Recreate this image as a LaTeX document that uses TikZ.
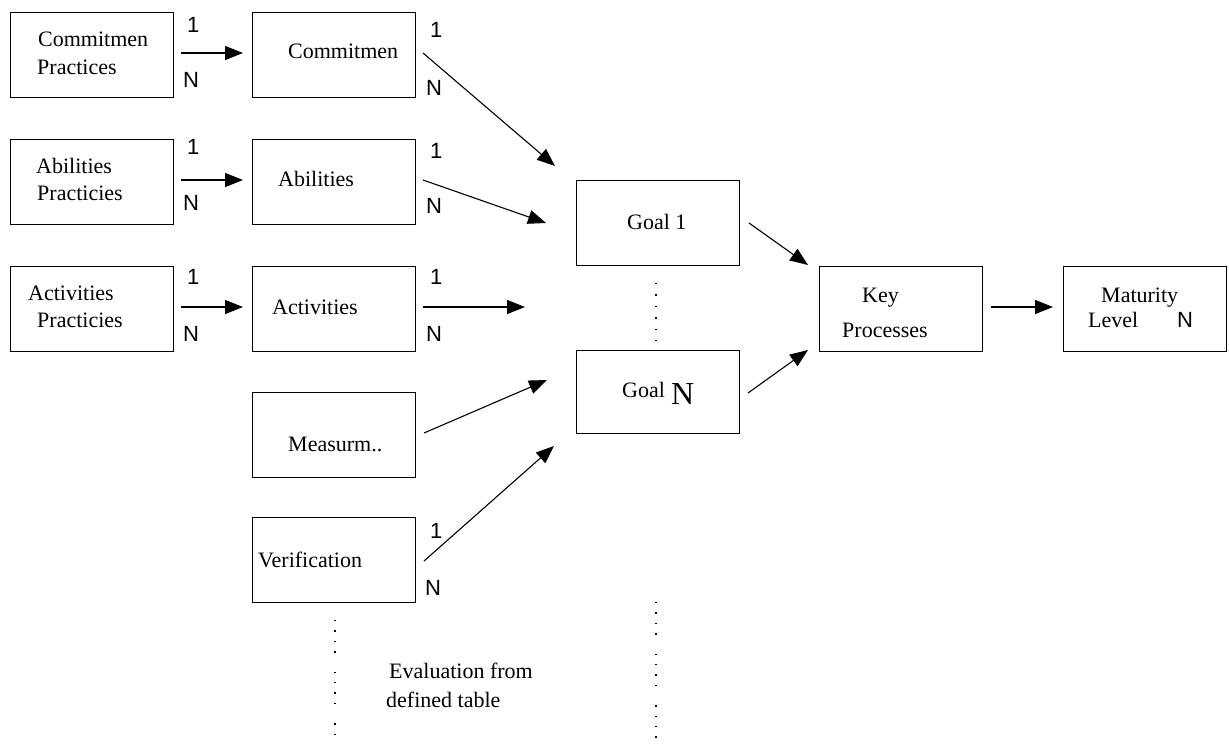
\documentclass[tikz,border=0pt]{standalone}
\usepackage{fontspec}
\setmainfont{Liberation Serif}
\newfontfamily\labelfont{Liberation Sans}
\usetikzlibrary{arrows.meta}
\begin{document}
\begin{tikzpicture}[x=1pt,y=-1pt,
  box/.style={draw, line width=1.2pt, inner sep=0pt, anchor=north west,
              minimum width=163pt, minimum height=85pt},
  txt/.style={anchor=base west, inner sep=0pt, font=\fontsize{22}{26}\selectfont},
  card/.style={anchor=base west, inner sep=0pt, font=\labelfont\fontsize{22}{26}\selectfont},
  link/.style={line width=1.1pt, -{Triangle[length=18pt,width=14pt]}},
  dots/.style={line width=1.4pt, dash pattern=on 1.4pt off 9pt on 1.4pt off 9pt on 1.4pt off 9pt on 1.4pt off 19pt}
]
\useasboundingbox (0,0) rectangle (1229,744);

% practice boxes
\node[box] (cpr) at (10,12) {};
\node[box] (apr) at (10,139) {};
\node[box] (vpr) at (10,266) {};
\node[txt] (cprA) at (38,46) {Commitmen};
\node[txt] (cprB) at (37,74) {Practices};
\node[txt] (aprA) at (36,173) {Abilities};
\node[txt] (aprB) at (37,200) {Practicies};
\node[txt] (vprA) at (28,300) {Activities};
\node[txt] (vprB) at (37,327) {Practicies};

% feature boxes
\node[box] (com) at (252,12) {};
\node[box] (abi) at (252,139) {};
\node[box] (act) at (252,266) {};
\node[box] (mea) at (252,392) {};
\node[box] (ver) at (252,517) {};
\node[txt] (comT) at (288,58) {Commitmen};
\node[txt] (abiT) at (278,186) {Abilities};
\node[txt] (actT) at (272,314) {Activities};
\node[txt] (meaT) at (288,451) {Measurm..};
\node[txt] (verT) at (258,567) {Verification};

% goals
\node[box] (g1) at (576,180) {};
\node[box, minimum height=83pt] (gn) at (576,350) {};
\node[txt] (g1T) at (627,229) {Goal 1};
\node[txt] (gnT) at (622,397) {Goal};
\node[txt, font=\fontsize{32}{36}\selectfont] (gnN) at (671,404) {N};

% key processes and maturity level
\node[box] (key) at (819,266) {};
\node[box] (mat) at (1063,266) {};
\node[txt] (keyA) at (862,302) {Key};
\node[txt] (keyB) at (842,337) {Processes};
\node[txt] (matA) at (1101,302) {Maturity};
\node[txt] (matB) at (1088,327) {Level};
\node[card] (matN) at (1177,327) {N};

% cardinality labels
\node[card] (c1a) at (187,32) {1};
\node[card] (c1b) at (183,87) {N};
\node[card] (c2a) at (187,154) {1};
\node[card] (c2b) at (183,210) {N};
\node[card] (c3a) at (187,284) {1};
\node[card] (c3b) at (183,341) {N};
\node[card] (d1a) at (430,37) {1};
\node[card] (d1b) at (426,95) {N};
\node[card] (d2a) at (430,158) {1};
\node[card] (d2b) at (426,213) {N};
\node[card] (d3a) at (430,284) {1};
\node[card] (d3b) at (426,341) {N};
\node[card] (d5a) at (430,538) {1};
\node[card] (d5b) at (425,595) {N};

% evaluation note
\node[txt] (evA) at (389,678) {Evaluation from};
\node[txt] (evB) at (386,707) {defined table};

% connector ends
\coordinate (p1s) at (181,53);  \coordinate (p1e) at (243,53);
\coordinate (p2s) at (181,180); \coordinate (p2e) at (243,180);
\coordinate (p3s) at (181,307); \coordinate (p3e) at (243,307);
\coordinate (q1s) at (423,53);  \coordinate (q1e) at (555,166);
\coordinate (q2s) at (423,180); \coordinate (q2e) at (546,223);
\coordinate (q3s) at (423,307); \coordinate (q3e) at (525,307);
\coordinate (q4s) at (424,433); \coordinate (q4e) at (547,380);
\coordinate (q5s) at (424,561); \coordinate (q5e) at (554,446);
\coordinate (r1s) at (749,223); \coordinate (r1e) at (808,265);
\coordinate (r2s) at (748,393); \coordinate (r2e) at (808,350);
\coordinate (s1s) at (991,307); \coordinate (s1e) at (1053,307);

\draw[link] (p1s) -- (p1e);
\draw[link] (p2s) -- (p2e);
\draw[link] (p3s) -- (p3e);
\draw[link] (q1s) -- (q1e);
\draw[link] (q2s) -- (q2e);
\draw[link] (q3s) -- (q3e);
\draw[link] (q4s) -- (q4e);
\draw[link] (q5s) -- (q5e);
\draw[link] (r1s) -- (r1e);
\draw[link] (r2s) -- (r2e);
\draw[link] (s1s) -- (s1e);

% dotted guides
\coordinate (gd1) at (656,283); \coordinate (gd2) at (656,348);
\draw[line width=1.4pt, dash pattern=on 1.4pt off 10pt] (gd1) -- (gd2);
\coordinate (lv1) at (335,620); \coordinate (lv2) at (335,744);
\coordinate (rv1) at (656,602); \coordinate (rv2) at (656,744);
\draw[dots] (lv1) -- (lv2);
\draw[dots] (rv1) -- (rv2);
\end{tikzpicture}
\end{document}
